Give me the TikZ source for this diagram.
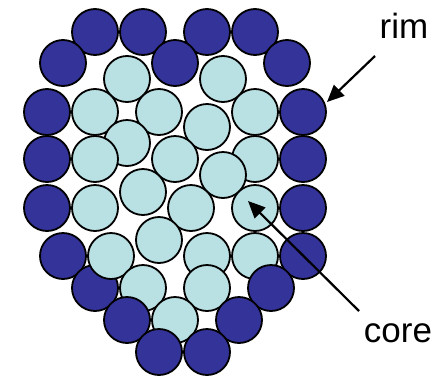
\documentclass[tikz,border=0pt]{standalone}
\usepackage{fontspec}
\setmainfont{Liberation Sans}
\usetikzlibrary{arrows.meta}
\definecolor{rimblue}{RGB}{51,51,153}
\definecolor{corecyan}{RGB}{185,224,227}
\begin{document}
\begin{tikzpicture}[x=1pt,y=-1pt,
  ball/.style={circle,draw=black,line width=1.8pt,minimum size=46pt,inner sep=0pt},
  rimball/.style={ball,fill=rimblue},
  coreball/.style={ball,fill=corecyan},
  lbl/.style={font=\fontsize{35}{42}\selectfont,anchor=base,inner sep=0pt},
  pointer/.style={line width=2.2pt,-{Triangle[length=17pt,width=15pt]}}]
\useasboundingbox (0,0) rectangle (447,378);
% rim balls (back)
\foreach \x/\y [count=\i] in {95/32,143/32,207/32,255/32,63/63,175/63,287/63,
  47/112,303/112,47/159,303/159,47/208,303/208,63/256,303/256,95/288}
  \node[rimball] (r\i) at (\x,\y) {};
% core balls
\foreach \x/\y [count=\i] in {127/79,223/79,95/112,159/112,255/112,207/127,127/143,
  95/159,175/159,255/159,223/175,143/192,95/208,191/208,255/208,159/240,
  111/256,207/256,255/256,143/288,207/288,175/320}
  \node[coreball] (c\i) at (\x,\y) {};
% rim balls (front)
\foreach \x/\y [count=\i] in {271/288,127/320,239/320,159/352,207/352}
  \node[rimball] (f\i) at (\x,\y) {};
% labels
\node[lbl] (rim) at (404,38) {rim};
\node[lbl] (core) at (398,342) {core};
\coordinate (rimtail) at (375,56);
\coordinate (rimtip) at (327,102);
\coordinate (coretail) at (359,311);
\coordinate (coretip) at (248,201);
\draw[pointer] (rimtail) -- (rimtip);
\draw[pointer] (coretail) -- (coretip);
\end{tikzpicture}
\end{document}
